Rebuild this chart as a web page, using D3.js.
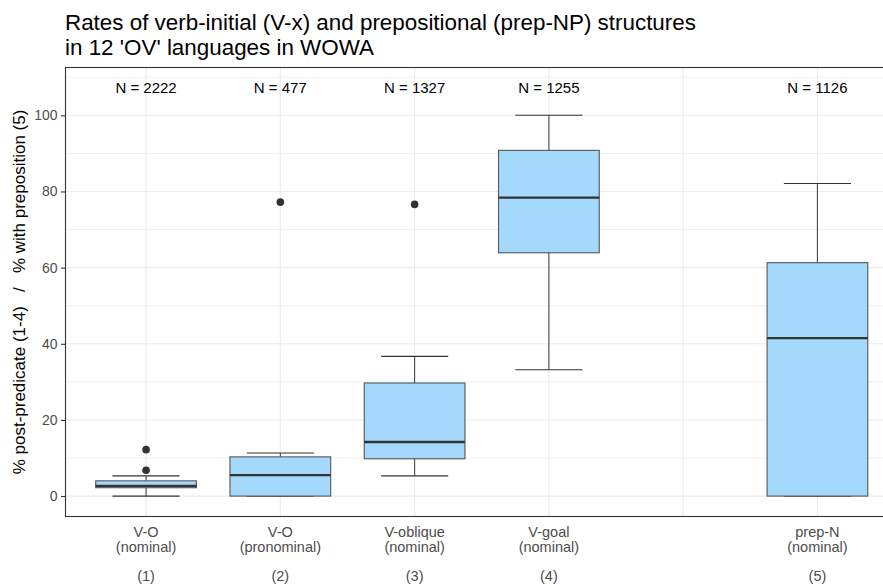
<!DOCTYPE html>
<html><head><meta charset="utf-8">
<script src="https://cdn.jsdelivr.net/npm/d3@7"></script>
<style>
html,body{margin:0;padding:0;background:#fff;}
svg{display:block;font-family:"Liberation Sans",Arial,sans-serif;}
</style></head>
<body>
<svg id="chart" width="883" height="585"></svg>
<script>
// ---- data ----
const categories = [
  ["V-O", "(nominal)", "", "(1)"],
  ["V-O", "(pronominal)", "", "(2)"],
  ["V-oblique", "(nominal)", "", "(3)"],
  ["V-goal", "(nominal)", "", "(4)"],
  ["prep-N", "(nominal)", "", "(5)"]
];
const positions = [1, 2, 3, 4, 6];
const lowerWhisker = [0, 0, 5.3, 33.2, 0];
const q1 = [2.2, 0, 9.8, 63.9, 0];
const median = [2.7, 5.5, 14.2, 78.4, 41.5];
const q3 = [4.0, 10.3, 29.7, 90.8, 61.3];
const upperWhisker = [5.3, 11.3, 36.7, 100, 82.1];
const outliers = [[6.8, 12.2], [77.2], [76.6], [], []];
const nLabels = ["N = 2222", "N = 477", "N = 1327", "N = 1255", "N = 1126"];
const nLabelY = 107.2;
const yTicks = [0, 20, 40, 60, 80, 100];
const yMinor = [10, 30, 50, 70, 90, 110];
const xGrid = [1, 2, 3, 4, 5, 6];
const titleLines = ["Rates of verb-initial (V-x) and prepositional (prep-NP) structures",
                    "in 12 'OV' languages in WOWA"];
const yTitle = "% post-predicate (1-4)   /   % with preposition (5)";

// ---- layout ----
const svg = d3.select("#chart");
const panel = {left: 65.5, top: 67.5, right: 898, bottom: 516.5};
const x = d3.scaleLinear().domain([0.4, 6.6]).range([panel.left, panel.right]);
const y = d3.scaleLinear().domain([-5.36, 112.56]).range([panel.bottom, panel.top]);
const unit = x(2) - x(1);
const boxW = 0.75 * unit, capW = 0.5 * unit;

svg.append("defs").append("clipPath").attr("id", "pclip")
  .append("rect").attr("x", panel.left).attr("y", panel.top)
  .attr("width", panel.right - panel.left).attr("height", panel.bottom - panel.top);

const g = svg.append("g").attr("clip-path", "url(#pclip)");
g.selectAll(".ymin").data(yMinor).join("line")
  .attr("x1", panel.left).attr("x2", panel.right)
  .attr("y1", d => y(d)).attr("y2", d => y(d))
  .attr("stroke", "#ebebeb").attr("stroke-width", 0.8);
g.selectAll(".ymaj").data(yTicks).join("line")
  .attr("x1", panel.left).attr("x2", panel.right)
  .attr("y1", d => y(d)).attr("y2", d => y(d))
  .attr("stroke", "#ebebeb").attr("stroke-width", 1.1);
g.selectAll(".xmaj").data(xGrid).join("line")
  .attr("x1", d => x(d)).attr("x2", d => x(d))
  .attr("y1", panel.top).attr("y2", panel.bottom)
  .attr("stroke", "#ebebeb").attr("stroke-width", 1.1);

const lineCol = "#4a4a4a";
const boxes = g.selectAll(".box").data(positions.map((p, i) => ({
  p, lo: lowerWhisker[i], q1: q1[i], med: median[i], q3: q3[i], hi: upperWhisker[i], out: outliers[i]
}))).join("g");
boxes.append("line").attr("x1", d => x(d.p)).attr("x2", d => x(d.p))
  .attr("y1", d => y(d.hi)).attr("y2", d => y(d.q3)).attr("stroke", lineCol).attr("stroke-width", 1.1);
boxes.append("line").attr("x1", d => x(d.p)).attr("x2", d => x(d.p))
  .attr("y1", d => y(d.q1)).attr("y2", d => y(d.lo)).attr("stroke", lineCol).attr("stroke-width", 1.1);
boxes.append("line").attr("x1", d => x(d.p) - capW / 2).attr("x2", d => x(d.p) + capW / 2)
  .attr("y1", d => y(d.hi)).attr("y2", d => y(d.hi)).attr("stroke", "#333").attr("stroke-width", 1.1);
boxes.append("line").attr("x1", d => x(d.p) - capW / 2).attr("x2", d => x(d.p) + capW / 2)
  .attr("y1", d => y(d.lo)).attr("y2", d => y(d.lo)).attr("stroke", "#333").attr("stroke-width", 1.1);
boxes.append("rect").attr("x", d => x(d.p) - boxW / 2).attr("width", boxW)
  .attr("y", d => y(d.q3)).attr("height", d => y(d.q1) - y(d.q3))
  .attr("fill", "#a5d8fd").attr("stroke", "#555").attr("stroke-width", 1.1);
boxes.append("line").attr("x1", d => x(d.p) - boxW / 2).attr("x2", d => x(d.p) + boxW / 2)
  .attr("y1", d => y(d.med)).attr("y2", d => y(d.med)).attr("stroke", "#333").attr("stroke-width", 2.3);
boxes.each(function(d) {
  d3.select(this).selectAll("circle").data(d.out).join("circle")
    .attr("cx", x(d.p)).attr("cy", v => y(v)).attr("r", 3.8).attr("fill", "#333");
});
g.selectAll(".nlab").data(positions).join("text")
  .attr("x", d => x(d)).attr("y", y(nLabelY)).attr("dy", "0.35em")
  .attr("text-anchor", "middle").attr("font-size", 15).attr("fill", "#000")
  .text((d, i) => nLabels[i]);

svg.append("rect").attr("x", panel.left).attr("y", panel.top)
  .attr("width", panel.right - panel.left).attr("height", panel.bottom - panel.top)
  .attr("fill", "none").attr("stroke", "#333").attr("stroke-width", 1.1);

const yAxis = svg.append("g").attr("transform", `translate(${panel.left},0)`)
  .call(d3.axisLeft(y).tickValues(yTicks).tickSize(4.5).tickPadding(3.5));
yAxis.select(".domain").remove();
yAxis.selectAll(".tick line").attr("stroke", "#333").attr("stroke-width", 1.1);
yAxis.selectAll(".tick text").attr("fill", "#4d4d4d").attr("font-size", 14)
  .attr("font-family", "Liberation Sans, Arial, sans-serif");

// x labels: each line its own text element
const lineDy = 14.6;
const xg = svg.append("g");
positions.forEach((p, i) => {
  categories[i].forEach((t, j) => {
    if (t === "") return;
    xg.append("text").attr("x", x(p)).attr("y", 537 + j * lineDy)
      .attr("text-anchor", "middle").attr("font-size", 14.5).attr("fill", "#4d4d4d").text(t);
  });
});

svg.append("text").attr("transform", `translate(25,${(panel.top + panel.bottom) / 2}) rotate(-90)`)
  .attr("text-anchor", "middle").attr("font-size", 17).attr("fill", "#000")
  .attr("xml:space", "preserve").style("white-space", "pre").text(yTitle);

svg.append("text").attr("x", 65).attr("y", 30).attr("font-size", 22.4).attr("fill", "#000")
  .selectAll("tspan").data(titleLines).join("tspan")
  .attr("x", 65).attr("dy", (t, i) => i === 0 ? 0 : 25).text(t => t);
</script>
</body></html>
